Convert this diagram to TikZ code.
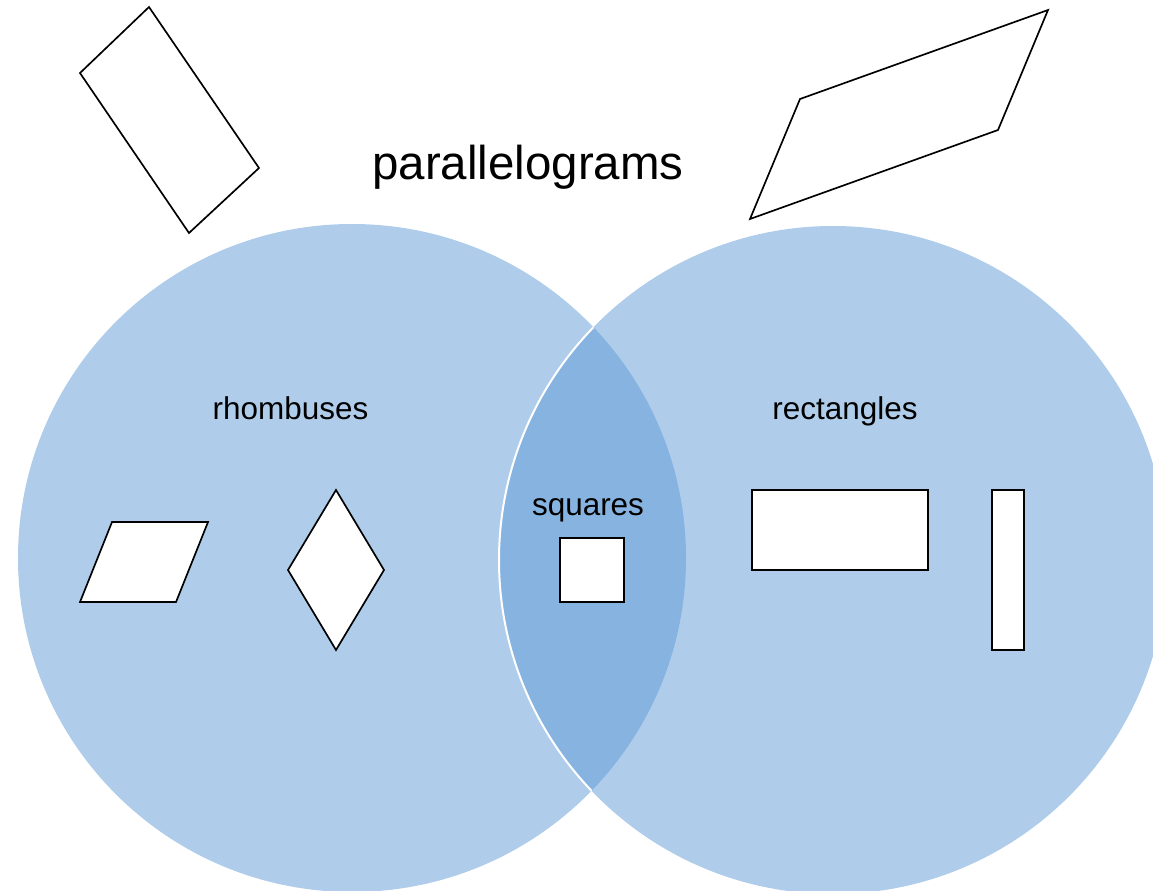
\documentclass[tikz,border=0pt]{standalone}
\usepackage{fontspec}
\setmainfont{Liberation Sans}
\definecolor{venn}{HTML}{AFCDEA}
\definecolor{lens}{HTML}{86B3DF}
\begin{document}
\begin{tikzpicture}[x=0.75pt,y=-0.75pt,
  figshape/.style={draw=black,fill=white,line width=1.25pt,line join=miter},
  lbl/.style={anchor=base,inner sep=0pt,font=\fontsize{23.6}{28}\selectfont},
  title/.style={anchor=base,inner sep=0pt,font=\fontsize{35.6}{42}\selectfont}]
\useasboundingbox (0,0) rectangle (1153,890);
% circles
\fill[venn] (352,558) circle (250.5pt);
\fill[venn] (833,560) circle (250.5pt);
\begin{scope}
  \clip (352,558) circle (250.5pt);
  \fill[lens] (833,560) circle (250.5pt);
  \draw[white,line width=1.5pt] (833,560) circle (250.5pt);
\end{scope}
% labels
\node[title] (par) at (528,179) {parallelograms};
\node[lbl] (rho) at (290.5,419) {rhombuses};
\node[lbl] (rec) at (845,419) {rectangles};
\node[lbl] (squ) at (588,515) {squares};
% top shapes
\draw[figshape] (149,7) -- (259,168) -- (189,233) -- (80,73) -- cycle;
\draw[figshape] (800,99) -- (1048,10) -- (998,130) -- (750,219) -- cycle;
% rhombuses
\draw[figshape] (112,522) -- (208,522) -- (176,602) -- (80,602) -- cycle;
\draw[figshape] (336,490) -- (384,570) -- (336,650) -- (288,570) -- cycle;
% square
\draw[figshape] (560,538) rectangle (624,602);
% rectangles
\draw[figshape] (752,490) rectangle (928,570);
\draw[figshape] (992,490) rectangle (1024,650);
\end{tikzpicture}
\end{document}
